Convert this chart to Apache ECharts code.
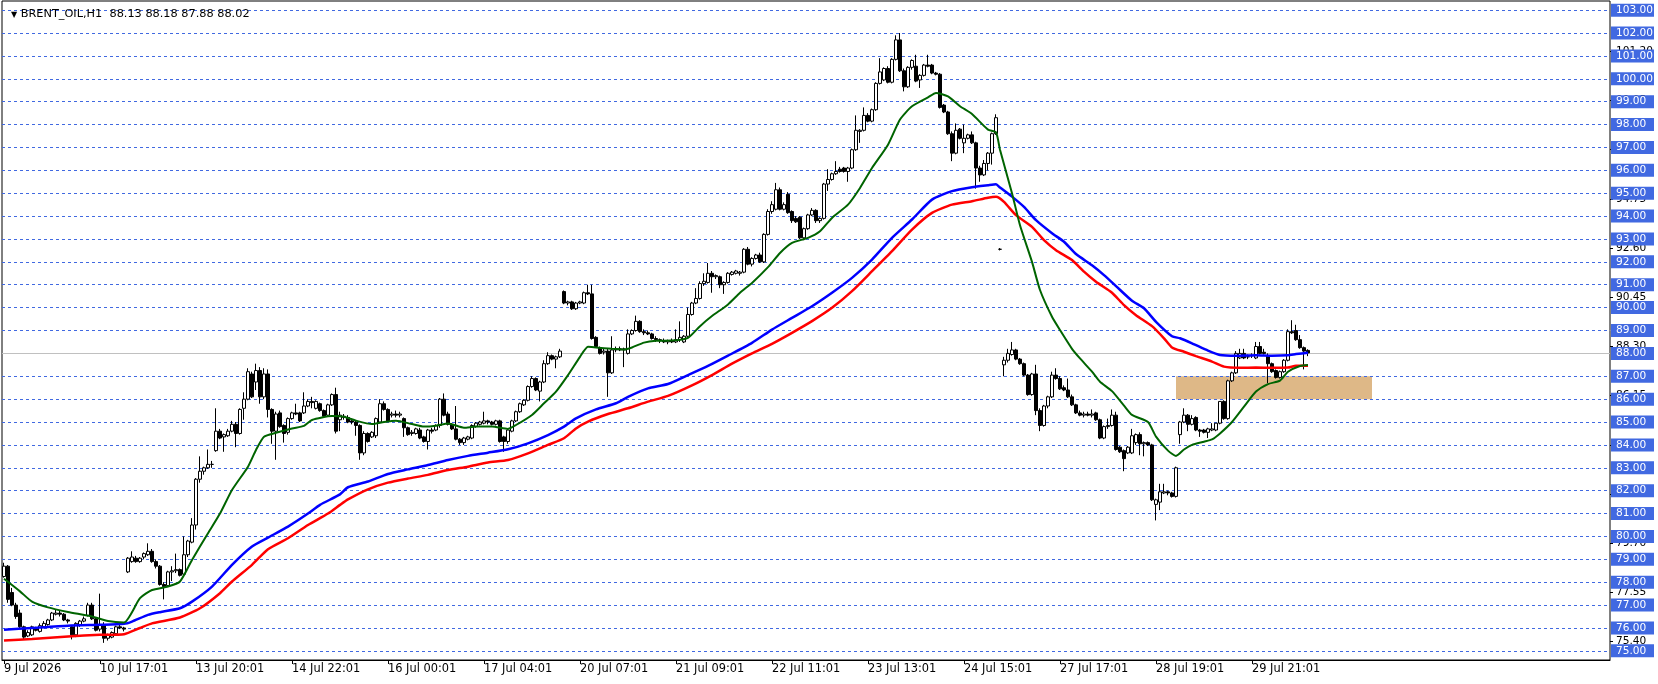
<!DOCTYPE html>
<html>
<head>
<meta charset="utf-8">
<title>BRENT_OIL,H1</title>
<script src="https://cdn.jsdelivr.net/npm/echarts@6/dist/echarts.min.js"></script>
<style>
  html, body { margin: 0; padding: 0; background: #fff; }
  #chart { width: 1658px; height: 684px; }
</style>
</head>
<body>
<div id="chart"></div>
<script>
// time labels, one every 24 bars
const tickLabels = ['9 Jul 2026', '10 Jul 17:01', '13 Jul 20:01', '14 Jul 22:01', '16 Jul 00:01', '17 Jul 04:01',
  '20 Jul 07:01', '21 Jul 09:01', '22 Jul 11:01', '23 Jul 13:01', '24 Jul 15:01', '27 Jul 17:01',
  '28 Jul 19:01', '29 Jul 21:01']

// price grid (blue boxes) and the terminal's own scale marks behind them
const priceLevels = [75, 76, 77, 78, 79, 80, 81, 82, 83, 84, 85, 86, 87, 88, 89, 90, 91, 92, 93, 94, 95, 96, 97, 98, 99, 100, 101, 102, 103]
const scaleLevels = [75.40, 77.55, 79.70, 81.85, 84.00, 86.15, 88.30, 90.45, 92.60, 94.75, 96.90, 99.05, 101.20]

// H1 candles
const opens = [
  78.25, 78.70, 77.55, 77.00, 76.65, 76.05, 75.65, 75.70, 75.95, 75.85,
  76.05, 76.15, 76.35, 76.60, 76.65, 76.60, 76.35, 76.05, 75.70, 76.15,
  76.30, 76.55, 77.00, 76.40, 75.95, 76.15, 75.55, 75.60, 75.75, 76.05,
  76.00, 78.45, 78.90, 79.05, 78.90, 79.10, 79.20, 79.35, 78.90, 78.70,
  77.90, 77.85, 78.45, 78.50, 78.55, 78.35, 79.20, 79.75, 80.50, 82.50,
  82.85, 83.00, 83.15, 83.75, 84.60, 84.35, 84.40, 84.60, 84.90, 84.50,
  85.60, 86.00, 87.10, 86.75, 87.25, 86.10, 87.10, 85.55, 84.60, 85.40,
  84.85, 84.55, 85.15, 85.40, 85.40, 85.40, 85.70, 85.90, 85.60, 85.80,
  85.50, 85.30, 85.75, 86.20, 85.10, 85.25, 85.20, 85.05, 85.00, 84.85,
  83.65, 84.50, 84.35, 84.40, 85.00, 85.80, 85.55, 85.30, 85.35, 85.30,
  85.15, 84.75, 84.50, 84.50, 84.65, 84.35, 84.15, 84.65, 84.65, 84.85,
  86.00, 85.35, 84.90, 84.70, 84.25, 84.10, 84.25, 84.30, 84.80, 84.90,
  84.95, 85.05, 85.00, 84.90, 85.05, 84.35, 84.15, 84.60, 85.05, 85.45,
  85.75, 85.95, 86.55, 86.90, 86.35, 86.75, 87.55, 87.90, 87.75, 87.85,
  90.70, 90.20, 90.25, 89.95, 90.20, 90.20, 90.65, 90.60, 88.70, 88.25,
  88.05, 88.10, 87.15, 88.15, 88.20, 88.15, 88.00, 88.85, 89.00, 89.40,
  88.95, 88.90, 88.85, 88.65, 88.60, 88.55, 88.50, 88.55, 88.50, 88.60,
  88.50, 88.75, 89.70, 90.20, 90.40, 91.05, 91.10, 91.50, 91.35, 91.35,
  91.00, 91.10, 91.45, 91.50, 91.50, 91.55, 92.55, 91.90, 92.15, 92.30,
  92.00, 93.20, 94.20, 94.30, 95.15, 94.30, 94.95, 94.20, 93.90, 93.95,
  93.05, 93.45, 94.05, 94.25, 93.80, 93.90, 95.40, 95.60, 95.85, 96.05,
  96.10, 95.95, 96.10, 96.90, 97.70, 97.75, 98.40, 98.15, 98.65, 99.80,
  99.95, 100.45, 99.85, 100.85, 101.70, 100.35, 99.65, 100.50, 100.55, 99.95,
  100.15, 100.60, 100.60, 100.25, 100.20, 98.85, 98.55, 97.60, 96.75, 97.80,
  97.20, 97.40, 97.55, 97.20, 96.10, 95.80, 96.30, 96.75, 97.60, 92.55,
  87.50, 87.70, 87.95, 88.15, 87.75, 87.55, 87.05, 86.20, 87.10, 85.50,
  84.85, 85.70, 86.10, 87.05, 86.90, 86.50, 86.40, 86.10, 85.75, 85.40,
  85.30, 85.35, 85.30, 85.40, 85.10, 84.30, 84.80, 84.85, 85.30, 83.90,
  83.75, 83.65, 83.65, 84.10, 84.45, 84.05, 84.10, 84.00, 81.40, 81.50,
  81.90, 81.95, 81.90, 81.75, 84.45, 85.00, 85.30, 84.90, 85.20, 84.65,
  84.65, 84.55, 84.65, 84.65, 84.95, 85.90, 85.15, 86.80, 87.15, 87.80,
  88.00, 87.85, 87.90, 87.80, 88.30, 88.05, 87.90, 87.55, 87.25, 86.95,
  87.20, 87.70, 88.95, 89.00, 88.60, 88.25, 88.13
]
const highs = [
  78.85, 78.75, 77.75, 77.10, 76.80, 76.10, 75.90, 76.10, 76.05, 76.20,
  76.30, 76.40, 76.70, 76.80, 76.75, 76.65, 76.40, 76.10, 76.25, 76.35,
  76.50, 77.10, 77.10, 76.45, 77.50, 76.25, 75.75, 75.85, 76.10, 76.15,
  76.05, 79.10, 79.35, 79.15, 79.10, 79.30, 79.70, 79.45, 79.00, 78.75,
  78.00, 78.50, 78.70, 79.25, 78.60, 80.00, 79.85, 80.80, 82.55, 83.50,
  83.05, 83.80, 83.30, 85.60, 84.70, 84.50, 84.70, 85.05, 85.00, 85.60,
  86.30, 87.35, 87.20, 87.55, 87.40, 87.35, 87.30, 85.60, 85.45, 85.50,
  84.90, 85.20, 85.45, 85.80, 85.45, 86.30, 86.00, 86.10, 85.95, 85.85,
  85.55, 85.80, 86.25, 86.50, 85.45, 85.35, 85.30, 85.15, 85.05, 84.90,
  84.60, 84.55, 84.60, 85.20, 86.00, 85.90, 85.60, 85.45, 85.50, 85.45,
  85.20, 84.80, 84.65, 84.75, 84.75, 84.40, 84.70, 84.75, 84.90, 86.05,
  86.25, 85.45, 84.95, 85.70, 84.30, 84.35, 84.40, 84.90, 85.00, 85.05,
  85.45, 85.10, 85.05, 85.10, 85.10, 84.40, 84.70, 85.10, 85.50, 85.85,
  86.00, 86.60, 87.00, 86.95, 86.80, 87.70, 88.05, 87.95, 87.90, 88.20,
  90.75, 90.30, 90.30, 90.25, 90.30, 90.70, 91.00, 91.00, 88.75, 88.30,
  88.20, 88.20, 88.75, 88.30, 88.30, 88.25, 89.05, 89.05, 89.65, 89.45,
  89.05, 89.00, 88.90, 88.75, 88.65, 88.65, 88.60, 88.65, 89.05, 89.40,
  88.80, 90.00, 90.25, 90.85, 91.15, 91.50, 91.95, 91.60, 91.45, 91.40,
  91.15, 91.55, 91.60, 91.65, 91.60, 92.60, 92.65, 92.20, 92.35, 92.40,
  93.25, 94.30, 94.65, 95.45, 95.25, 94.60, 95.05, 94.25, 94.00, 94.00,
  93.50, 94.10, 94.35, 94.30, 93.95, 95.45, 96.05, 95.90, 96.40, 96.15,
  96.15, 96.15, 96.95, 98.40, 97.80, 98.75, 98.50, 98.70, 99.85, 100.90,
  100.50, 100.55, 100.90, 101.90, 102.00, 100.45, 100.55, 100.85, 101.05, 100.20,
  100.65, 101.05, 100.65, 100.30, 100.25, 98.90, 98.60, 97.70, 98.05, 97.85,
  98.00, 97.60, 97.70, 97.25, 96.20, 96.45, 96.80, 97.65, 98.45, 92.60,
  87.85, 88.20, 88.50, 88.20, 87.80, 87.60, 87.10, 87.15, 87.50, 85.60,
  85.75, 86.15, 87.20, 87.35, 87.00, 86.60, 86.90, 86.20, 85.80, 85.50,
  85.45, 85.45, 85.55, 85.45, 85.15, 84.85, 85.15, 85.55, 85.45, 83.95,
  83.80, 83.95, 84.70, 84.50, 84.55, 84.15, 84.15, 84.05, 81.65, 82.30,
  82.30, 82.00, 81.95, 83.05, 85.05, 85.60, 85.35, 85.30, 85.25, 84.70,
  84.70, 84.75, 84.95, 84.95, 85.90, 85.95, 86.85, 87.20, 88.10, 88.20,
  88.20, 87.95, 88.00, 88.50, 88.50, 88.20, 88.00, 87.60, 87.30, 87.25,
  87.75, 89.05, 89.45, 89.25, 88.80, 88.30, 88.18
]
const lows = [
  78.20, 77.10, 76.95, 76.40, 76.00, 75.50, 75.60, 75.65, 75.85, 75.80,
  76.00, 76.10, 76.30, 76.55, 76.50, 76.30, 76.20, 75.50, 75.60, 76.05,
  76.25, 76.50, 76.35, 75.85, 75.85, 75.35, 75.45, 75.55, 75.70, 75.95,
  75.85, 78.40, 78.85, 78.85, 78.85, 79.00, 79.15, 78.85, 78.60, 77.85,
  77.25, 77.80, 78.05, 78.40, 78.25, 78.25, 79.10, 79.70, 80.30, 82.35,
  82.70, 82.95, 83.00, 83.70, 84.25, 83.70, 84.35, 84.55, 83.90, 84.45,
  85.10, 85.95, 86.05, 86.40, 85.80, 86.00, 85.20, 84.05, 83.35, 84.75,
  84.10, 84.45, 85.10, 85.30, 85.00, 85.35, 85.65, 85.60, 85.55, 85.45,
  85.20, 85.25, 85.70, 84.50, 84.60, 85.10, 84.95, 84.90, 84.40, 83.35,
  83.55, 84.10, 84.30, 84.30, 84.95, 85.50, 85.00, 85.20, 85.20, 85.20,
  84.35, 84.40, 84.40, 84.45, 84.25, 84.10, 83.80, 84.50, 84.60, 84.75,
  85.25, 84.85, 84.65, 84.20, 84.00, 84.00, 84.20, 84.25, 84.75, 84.85,
  84.90, 84.90, 84.85, 84.85, 84.10, 83.70, 84.05, 84.55, 85.00, 85.40,
  85.70, 85.90, 86.50, 86.35, 85.90, 86.70, 87.50, 87.70, 87.35, 87.80,
  90.15, 90.10, 89.90, 89.90, 90.15, 90.15, 90.55, 88.60, 88.25, 87.95,
  87.95, 86.10, 87.10, 88.05, 88.10, 87.40, 87.95, 88.80, 88.95, 88.90,
  88.80, 88.80, 88.60, 88.50, 88.45, 88.45, 88.40, 88.45, 88.45, 88.50,
  88.45, 88.70, 89.65, 90.15, 90.35, 90.95, 91.05, 90.65, 91.25, 90.85,
  90.60, 91.05, 91.40, 91.45, 91.40, 91.50, 91.85, 91.80, 92.10, 91.95,
  91.95, 93.15, 94.10, 94.25, 94.25, 94.25, 94.10, 93.70, 93.70, 93.00,
  92.95, 93.40, 94.00, 93.70, 93.70, 93.85, 95.10, 95.55, 95.80, 95.90,
  95.90, 95.50, 96.05, 96.85, 97.20, 97.70, 98.10, 98.10, 98.60, 99.75,
  99.90, 99.80, 99.80, 100.80, 100.30, 99.45, 99.60, 100.40, 99.85, 99.60,
  100.10, 100.50, 100.20, 100.15, 98.70, 98.50, 97.55, 96.40, 96.70, 97.35,
  96.75, 97.35, 97.15, 95.20, 95.50, 95.75, 96.00, 96.25, 97.55, 92.50,
  87.00, 87.60, 87.90, 87.70, 87.50, 87.00, 86.15, 86.15, 85.30, 84.60,
  84.80, 85.60, 86.05, 86.85, 86.40, 86.35, 86.05, 85.70, 85.35, 85.25,
  85.20, 85.25, 85.20, 85.05, 84.25, 84.25, 84.70, 84.80, 83.75, 83.65,
  82.85, 83.60, 83.60, 84.00, 83.55, 83.50, 83.95, 81.55, 80.70, 81.15,
  81.85, 81.80, 81.70, 81.70, 84.05, 84.95, 84.60, 84.85, 84.60, 84.35,
  84.50, 84.30, 84.60, 84.60, 84.90, 85.10, 85.10, 86.75, 87.10, 87.75,
  87.75, 87.75, 87.80, 87.75, 87.95, 87.95, 86.70, 87.15, 86.90, 86.90,
  87.15, 87.65, 88.85, 88.55, 88.20, 87.30, 87.88
]
const closes = [
  78.70, 77.25, 77.00, 76.50, 76.05, 75.60, 75.80, 76.05, 75.90, 76.10,
  76.20, 76.35, 76.65, 76.65, 76.60, 76.35, 76.30, 75.70, 76.20, 76.30,
  76.40, 77.00, 76.40, 75.90, 76.15, 75.55, 75.70, 75.80, 76.05, 76.00,
  75.95, 79.05, 79.10, 78.90, 79.05, 79.25, 79.35, 78.90, 78.70, 77.90,
  77.80, 78.45, 78.50, 78.55, 78.30, 79.20, 79.80, 80.50, 82.50, 82.85,
  83.00, 83.15, 83.15, 84.60, 84.30, 84.45, 84.60, 84.90, 84.50, 85.55,
  86.00, 87.20, 86.10, 87.25, 86.10, 87.10, 85.55, 84.60, 85.35, 84.80,
  84.50, 85.15, 85.40, 85.35, 85.05, 85.70, 85.90, 85.85, 85.90, 85.50,
  85.25, 85.75, 86.20, 84.60, 85.30, 85.20, 85.00, 85.00, 84.85, 83.65,
  84.50, 84.15, 84.55, 85.15, 85.80, 85.55, 85.05, 85.35, 85.30, 85.35,
  84.75, 84.45, 84.55, 84.70, 84.30, 84.15, 84.65, 84.60, 84.85, 86.00,
  85.30, 84.90, 84.70, 84.25, 84.10, 84.30, 84.35, 84.85, 84.95, 85.00,
  85.05, 85.00, 84.90, 85.05, 84.15, 84.15, 84.65, 85.05, 85.45, 85.80,
  85.95, 86.55, 86.90, 86.40, 86.75, 87.55, 87.90, 87.75, 87.85, 88.10,
  90.20, 90.25, 89.95, 90.20, 90.25, 90.65, 90.60, 88.65, 88.30, 88.00,
  88.10, 87.15, 88.15, 88.20, 88.15, 88.20, 88.85, 89.00, 89.40, 88.95,
  88.90, 88.85, 88.65, 88.60, 88.55, 88.50, 88.55, 88.50, 88.60, 88.70,
  88.75, 89.70, 90.20, 90.40, 91.05, 91.15, 91.50, 91.35, 91.40, 91.00,
  91.10, 91.50, 91.55, 91.60, 91.55, 92.55, 91.90, 92.15, 92.30, 92.00,
  93.20, 94.20, 94.50, 95.15, 94.30, 94.50, 94.15, 93.80, 93.75, 93.05,
  93.45, 94.05, 94.25, 93.80, 93.90, 95.40, 95.60, 95.85, 95.95, 95.95,
  95.95, 96.10, 96.90, 97.75, 97.75, 98.40, 98.15, 98.65, 99.80, 100.30,
  100.45, 99.85, 100.85, 101.70, 100.35, 99.65, 100.50, 100.80, 99.90, 100.15,
  100.60, 100.55, 100.25, 100.20, 98.75, 98.55, 97.60, 96.75, 97.75, 97.40,
  97.40, 97.55, 97.20, 96.10, 95.80, 96.30, 96.75, 97.60, 98.30, 92.55,
  87.70, 88.00, 88.15, 87.75, 87.55, 87.05, 86.20, 87.10, 85.50, 84.85,
  85.70, 86.10, 87.05, 86.90, 86.45, 86.40, 86.10, 85.75, 85.40, 85.30,
  85.35, 85.30, 85.35, 85.10, 84.30, 84.80, 84.85, 85.30, 83.80, 83.70,
  83.40, 83.90, 84.40, 84.45, 84.05, 84.10, 84.00, 81.60, 81.60, 81.95,
  81.95, 81.90, 81.75, 83.00, 85.00, 85.30, 84.90, 85.15, 84.65, 84.60,
  84.55, 84.70, 84.70, 84.95, 85.90, 85.15, 86.80, 87.15, 88.00, 88.00,
  87.80, 87.85, 87.90, 88.30, 88.00, 88.00, 87.55, 87.20, 86.95, 87.20,
  87.70, 88.95, 88.90, 88.60, 88.25, 88.10, 88.02
]

// moving averages: [bar index, price]
const maFast = [
  [0, 78.15], [4, 77.6], [7, 77.15], [11, 76.9], [16, 76.7], [22, 76.5], [26, 76.3], [30, 76.24],
  [34, 77.3], [37, 77.66], [41, 77.81], [44, 78.03], [47, 78.97], [51, 80.14], [54, 81.0], [57, 82.03],
  [61, 83.05], [63, 83.78], [65, 84.36], [68, 84.53], [72, 84.72], [75, 84.83], [77, 85.09], [82, 85.26],
  [85, 85.23], [88, 85.06], [92, 84.91], [95, 85.0], [98, 85.06], [102, 84.91], [105, 84.8], [108, 84.84],
  [111, 84.94], [115, 84.75], [118, 84.8], [122, 84.8], [126, 84.7], [128, 84.87], [132, 85.31], [135, 85.82],
  [138, 86.33], [141, 87.05], [144, 87.85], [146, 88.29], [148, 88.26], [152, 88.2], [155, 88.17], [157, 88.26],
  [160, 88.47], [163, 88.55], [167, 88.56], [171, 88.68], [174, 89.19], [177, 89.63], [181, 90.14], [184, 90.65],
  [187, 91.08], [191, 91.77], [194, 92.39], [197, 92.83], [201, 93.05], [204, 93.34], [207, 93.92], [211, 94.5],
  [214, 95.23], [217, 96.1], [221, 97.12], [224, 98.22], [227, 98.8], [231, 99.19], [233, 99.38], [236, 99.23],
  [239, 98.8], [242, 98.46], [246, 97.78], [248, 97.66], [249, 96.9], [252, 95.0], [254, 93.6], [257, 92.0],
  [259, 90.77], [262, 89.6], [264, 89.02], [267, 88.2], [269, 87.78], [272, 87.2], [274, 86.76], [277, 86.35],
  [280, 85.72], [282, 85.31], [286, 85.0], [288, 84.36], [291, 83.75], [293, 83.52], [295, 83.8], [297, 84.0],
  [300, 84.14], [302, 84.24], [304, 84.5], [307, 85.0], [310, 85.67], [313, 86.33], [316, 86.66], [319, 86.81],
  [321, 87.2], [324, 87.45], [326, 87.49]
]
const maMid = [
  [0, 75.92], [7, 76.0], [16, 76.1], [24, 76.14], [30, 76.18], [32, 76.28], [36, 76.57], [39, 76.69],
  [44, 76.86], [47, 77.15], [52, 77.81], [57, 78.76], [62, 79.56], [66, 79.95], [71, 80.43], [76, 81.0],
  [79, 81.38], [84, 81.84], [86, 82.15], [91, 82.4], [96, 82.73], [101, 82.93], [106, 83.12], [111, 83.34],
  [116, 83.52], [121, 83.66], [126, 83.81], [131, 84.07], [136, 84.43], [140, 84.8], [143, 85.16], [148, 85.55],
  [153, 85.82], [156, 86.1], [161, 86.47], [166, 86.66], [171, 87.05], [176, 87.45], [181, 87.9], [187, 88.46],
  [192, 89.04], [197, 89.55], [202, 90.06], [207, 90.65], [212, 91.3], [217, 92.1], [222, 93.05], [227, 93.85],
  [232, 94.72], [237, 95.09], [242, 95.26], [246, 95.35], [248, 95.39], [249, 95.25], [252, 94.85], [255, 94.4],
  [258, 93.82], [262, 93.25], [265, 92.88], [268, 92.34], [272, 91.85], [275, 91.42], [278, 90.94], [282, 90.3],
  [285, 89.97], [288, 89.38], [292, 88.75], [294, 88.66], [297, 88.44], [301, 88.12], [304, 87.93], [308, 87.9],
  [313, 87.92], [317, 87.9], [321, 87.92], [323, 87.97], [326, 88.03]
]
const maSlow = [
  [0, 75.45], [7, 75.52], [16, 75.63], [24, 75.7], [30, 75.73], [34, 76.0], [37, 76.2], [44, 76.46],
  [49, 76.86], [54, 77.52], [57, 78.03], [62, 78.76], [66, 79.44], [71, 79.92], [76, 80.5], [81, 81.0],
  [84, 81.38], [86, 81.62], [91, 82.06], [96, 82.35], [101, 82.53], [106, 82.69], [111, 82.9], [116, 83.05],
  [121, 83.23], [126, 83.34], [131, 83.63], [136, 84.0], [140, 84.29], [143, 84.72], [146, 85.02], [151, 85.35],
  [156, 85.6], [161, 85.89], [166, 86.14], [172, 86.6], [177, 87.05], [182, 87.55], [187, 88.0], [192, 88.42],
  [197, 88.9], [202, 89.41], [207, 89.99], [212, 90.72], [217, 91.59], [222, 92.47], [227, 93.41], [232, 94.14],
  [237, 94.5], [242, 94.65], [246, 94.8], [248, 94.84], [250, 94.62], [253, 94.04], [257, 93.53], [260, 92.95],
  [263, 92.51], [267, 92.08], [270, 91.57], [273, 91.13], [277, 90.65], [280, 90.11], [283, 89.67], [287, 89.19],
  [290, 88.66], [292, 88.26], [295, 88.07], [298, 87.88], [302, 87.64], [305, 87.42], [309, 87.37], [313, 87.38],
  [317, 87.37], [321, 87.38], [323, 87.46], [326, 87.46]
]

// support zone rectangle and current bid
const zoneBars = [293, 342]
const zonePrices = [86, 87]
const bidPrice = 88.02

const slotCount = 402 // bars plus the empty shift area on the right
const slots = Array.from({ length: slotCount }, (_, i) => i)
const candles = opens.map((o, i) => [o, closes[i], lows[i], highs[i]])

const FONT = 'DejaVu Sans'
const showTick = (i) => i % 24 === 0 && i / 24 < tickLabels.length

const chart = echarts.init(document.getElementById('chart'))

const option = {
  animation: false,
  backgroundColor: '#ffffff',
  title: {
    text: '{t|▼} BRENT_OIL,H1  88.13 88.18 87.88 88.02',
    left: 6,
    top: 4,
    textStyle: {
      fontFamily: FONT,
      fontSize: 11.3,
      fontWeight: 'normal',
      color: '#000',
      rich: { t: { fontSize: 8, fontFamily: FONT, color: '#000' } }
    }
  },
  grid: {
    left: 2,
    right: 48,
    top: 1,
    bottom: 24,
    show: true,
    borderColor: '#000',
    borderWidth: 1,
    backgroundColor: '#fff'
  },
  xAxis: {
    type: 'category',
    data: slots,
    boundaryGap: true,
    axisLine: { show: true, lineStyle: { color: '#000', width: 1 } },
    axisTick: {
      show: true,
      interval: showTick,
      alignWithLabel: true,
      length: 4,
      lineStyle: { color: '#000' }
    },
    axisLabel: {
      interval: showTick,
      formatter: (v, i) => tickLabels[i / 24] || '',
      align: 'left',
      margin: 4,
      color: '#000',
      fontFamily: FONT,
      fontSize: 11.4
    },
    splitLine: { show: false }
  },
  yAxis: [
    {
      type: 'value',
      min: 74.6,
      max: 103.4,
      position: 'right',
      z: 1,
      splitLine: { show: false },
      axisLine: { show: false },
      axisTick: { show: true, customValues: scaleLevels, length: 3, lineStyle: { color: '#000' } },
      axisLabel: {
        customValues: scaleLevels,
        formatter: (v) => v.toFixed(2),
        color: '#000',
        fontFamily: FONT,
        fontSize: 10.6,
        margin: 6,
        align: 'left'
      }
    },
    {
      type: 'value',
      min: 74.6,
      max: 103.4,
      position: 'right',
      z: 2,
      splitLine: { show: false },
      axisLine: { show: false },
      axisTick: { show: false },
      axisLabel: {
        customValues: priceLevels,
        formatter: (v) => v.toFixed(2),
        color: '#fff',
        backgroundColor: '#4169E1',
        fontFamily: FONT,
        fontSize: 10.6,
        lineHeight: 13,
        width: 38,
        overflow: 'none',
        padding: [0, 0, 0, 5],
        margin: 1,
        align: 'left'
      }
    }
  ],
  series: [
    {
      // grid lines, bid line and the zone, kept under the price
      type: 'line',
      data: [],
      yAxisIndex: 0,
      silent: true,
      markLine: {
        silent: true,
        z: 1,
        symbol: ['none', 'none'],
        label: { show: false },
        lineStyle: { color: '#4169E1', type: [3, 3], width: 1 },
        data: priceLevels.map((p) => ({ yAxis: p })).concat([
          { yAxis: bidPrice, lineStyle: { color: '#c0c0c0', type: 'solid', width: 1 } }
        ])
      },
      markArea: {
        silent: true,
        z: 0,
        itemStyle: { color: '#DEB887' },
        data: [[
          { xAxis: zoneBars[0], yAxis: zonePrices[1] },
          { xAxis: zoneBars[1], yAxis: zonePrices[0] }
        ]]
      }
    },
    {
      name: 'BRENT_OIL',
      type: 'candlestick',
      data: candles,
      yAxisIndex: 0,
      barWidth: 3,
      z: 3,
      itemStyle: {
        color: '#ffffff',
        color0: '#000000',
        borderColor: '#000000',
        borderColor0: '#000000',
        borderWidth: 1
      }
    },
    {
      name: 'MA slow',
      type: 'line',
      data: maSlow,
      yAxisIndex: 0,
      symbol: 'none',
      smooth: 0.2,
      z: 4,
      lineStyle: { color: '#ff0000', width: 2.5 }
    },
    {
      name: 'MA mid',
      type: 'line',
      data: maMid,
      yAxisIndex: 0,
      symbol: 'none',
      smooth: 0.2,
      z: 4,
      lineStyle: { color: '#0000ff', width: 2.5 }
    },
    {
      name: 'MA fast',
      type: 'line',
      data: maFast,
      yAxisIndex: 0,
      symbol: 'none',
      smooth: 0.2,
      z: 5,
      lineStyle: { color: '#006400', width: 2 }
    }
  ]
}

chart && chart.setOption(option)
</script>
</body>
</html>
